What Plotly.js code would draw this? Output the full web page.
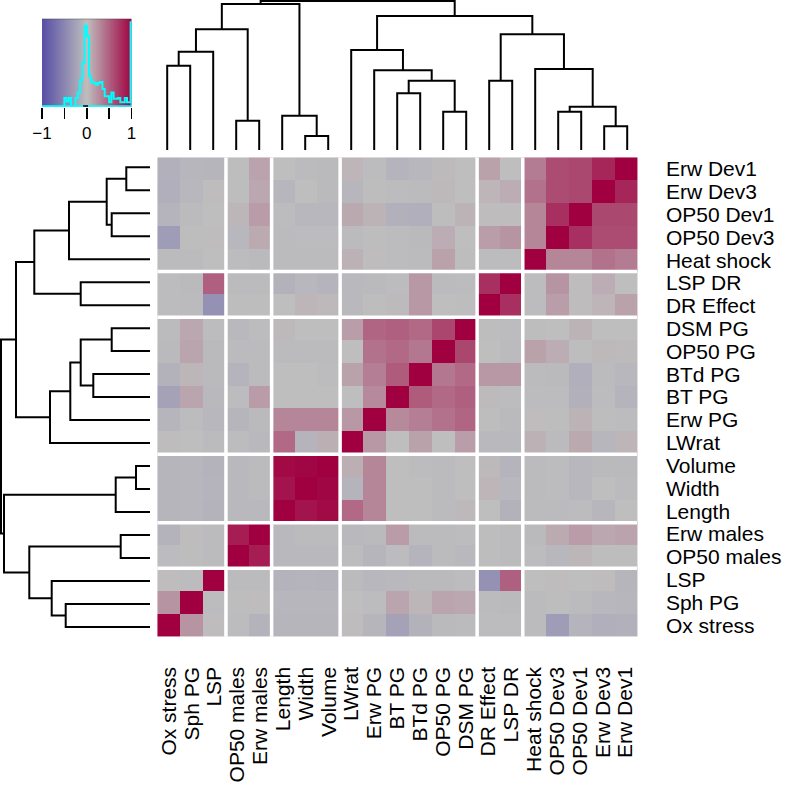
<!DOCTYPE html>
<html><head><meta charset="utf-8">
<script src="https://cdn.plot.ly/plotly-3.0.1.min.js"></script>
<style>html,body{margin:0;padding:0;background:#fff;} #chart{width:787px;height:787px;}</style>
</head><body><div id="chart"></div>
<script>
// Variable order (columns left->right; rows bottom->top)
const labels = ["Ox stress","Sph PG","LSP","OP50 males","Erw males","Length","Width","Volume","LWrat","Erw PG","BT PG","BTd PG","OP50 PG","DSM PG","DR Effect","LSP DR","Heat shock","OP50 Dev3","OP50 Dev1","Erw Dev3","Erw Dev1"];

// Correlation matrix (rows/cols in the order of `labels`)
const corr = [
 [1,0.22,0.01,-0.02,-0.1,-0.08,-0.08,-0.08,0.01,-0.08,-0.25,-0.11,-0.04,-0.03,-0.02,-0.02,-0.03,-0.3,-0.09,-0.13,-0.12],
 [0.22,1,-0.02,-0.01,0.01,-0.07,-0.07,-0.07,0,-0.02,0.13,0.04,0.13,0.12,-0.03,-0.04,-0.03,-0.01,-0.03,-0.06,-0.07],
 [0.01,-0.02,1,-0.03,-0.03,-0.1,-0.09,-0.1,-0.03,-0.06,-0.05,-0.04,-0.04,-0.02,-0.4,0.5,0,0.01,0,0.01,-0.08],
 [-0.02,-0.01,-0.03,1,0.85,-0.05,-0.05,-0.05,-0.02,-0.08,-0.02,-0.09,-0.03,-0.05,-0.01,-0.03,-0.02,-0.06,0.04,-0.01,-0.01],
 [-0.1,0.01,-0.03,0.85,1,-0.05,-0.03,-0.03,-0.05,-0.04,0.18,-0.03,-0.03,-0.02,-0.01,-0.03,-0.04,0.1,0.18,0.12,0.14],
 [-0.08,-0.07,-0.1,-0.05,-0.05,1,0.9,0.95,0.45,0.3,0,0,-0.03,0.03,0,-0.11,-0.03,-0.03,-0.02,-0.07,0],
 [-0.08,-0.07,-0.09,-0.05,-0.03,0.9,1,0.97,-0.09,0.3,0,0,-0.03,0,0.05,-0.06,-0.03,-0.02,-0.06,0,-0.03],
 [-0.08,-0.07,-0.1,-0.05,-0.03,0.95,0.97,1,0.08,0.3,0,-0.02,-0.03,0,0.03,-0.09,-0.03,-0.02,-0.06,-0.04,-0.04],
 [0.01,0,-0.03,-0.02,-0.05,0.45,-0.09,0.08,1,0.2,0,0.15,0,0.17,-0.05,-0.05,0.07,-0.03,0.11,-0.07,0.05],
 [-0.08,-0.02,-0.06,-0.08,-0.04,0.3,0.3,0.3,0.2,1,0.28,0.33,0.4,0.47,-0.01,-0.04,0.01,-0.01,0.06,-0.01,-0.02],
 [-0.25,0.13,-0.05,-0.02,0.18,0,0,0,0,0.28,1,0.52,0.45,0.5,0.02,-0.02,-0.02,-0.02,-0.12,-0.02,-0.09],
 [-0.11,0.04,-0.04,-0.09,-0.03,0,0,-0.02,0.15,0.33,0.52,1,0.37,0.45,0.2,0.2,-0.03,-0.04,-0.13,-0.03,-0.06],
 [-0.04,0.13,-0.04,-0.03,-0.03,-0.03,-0.03,-0.03,0,0.4,0.45,0.37,1,0.63,0,-0.03,0.15,0.09,-0.01,0.03,0.02],
 [-0.03,0.12,-0.02,-0.05,-0.02,0.03,0,0,0.17,0.47,0.5,0.45,0.63,1,-0.01,-0.02,-0.01,0,0.06,0,0],
 [-0.02,-0.03,-0.4,-0.01,-0.01,0,0.05,0.03,-0.05,-0.01,0.02,0.2,0,-0.01,1,0.75,-0.02,0.17,0.01,0.05,0.15],
 [-0.02,-0.04,0.5,-0.03,-0.03,-0.11,-0.06,-0.09,-0.05,-0.04,-0.02,0.2,-0.03,-0.02,0.75,1,-0.02,0.22,0.01,0.09,0],
 [-0.03,-0.03,0,-0.02,-0.04,-0.03,-0.03,-0.03,0.07,0.01,-0.02,-0.03,0.15,-0.01,-0.02,-0.02,1,0.3,0.3,0.4,0.35],
 [-0.3,-0.01,0.01,-0.06,0.1,-0.03,-0.02,-0.02,-0.03,-0.01,-0.02,-0.04,0.09,0,0.17,0.22,0.3,1,0.75,0.6,0.6],
 [-0.09,-0.03,0,0.04,0.18,-0.02,-0.06,-0.06,0.11,0.06,-0.12,-0.13,-0.01,0.06,0.01,0.01,0.3,0.75,1,0.62,0.62],
 [-0.13,-0.06,0.01,-0.01,0.12,-0.07,0,-0.04,-0.07,-0.01,-0.02,-0.03,0.03,0,0.05,0.09,0.4,0.6,0.62,1,0.8],
 [-0.12,-0.07,-0.08,-0.01,0.14,0,-0.03,-0.04,0.05,-0.02,-0.09,-0.06,0.02,0,0.15,0,0.35,0.6,0.62,0.8,1]
];

// Dendrogram (hclust-style merges: negative = leaf number (1-based), positive = earlier merge)
const mergeLeft   = [-7,-20,-4,-6,-13,-18, 6,-11, 8,-15,-10,-17, -1,13, -9,10,14,15,17,19];
const mergeRight  = [-8,-21,-5, 1,-14,-19, 2,-12, 5,-16,  9,  7, -2,-3, 11,12, 3,16, 4,18];
const mergeHeight = [14,23.7,29.3,34.3,38.3,38.3,43.3,56.7,69.3,69.3,79.7,81,84.3,98.3,100,115.7,120.7,134,146,149];

// Block separators (between category indices)
const separators = [2.5,4.5,7.5,13.5,15.5];

// Colour-key histogram (relative heights per bin)
const histEdges   = [-0.5,-0.45,-0.4,-0.35,-0.3,-0.25,-0.2,-0.15,-0.1,-0.05,0,0.05,0.1,0.15,0.2,0.25,0.3,0.35,0.4,0.45,0.5,0.55,0.6,0.65,0.7,0.75,0.8,0.85,0.9,0.95,0.98,1.0];
const histHeights = [0.1,0.06,0.1,0,0,0.1,0.16,0.3,0.5,0.92,0.8,0.35,0.28,0.27,0.25,0.27,0.28,0.2,0.12,0.12,0.05,0.16,0.09,0.09,0.1,0.05,0.05,0.1,0.05,0.05,0.96];

// Colour-key tick labels
const keyTickVals = [-1,-0.5,0,0.5,1];
const keyTickText = ['\u22121','','0','','1'];

const colorscale = [[0,'rgb(88,78,165)'],[0.5,'rgb(190,190,190)'],[1,'rgb(160,0,64)']];
const FONT = 'Liberation Sans, Arial, Helvetica, sans-serif';
const W = 787, H = 787;
const px = v => v / W;
const py = v => 1 - v / H;

// dendrogram geometry
const nodePos = [], nodeH = [];
function getNode(k){
  if (k < 0) return [(-k) - 1, 0];
  return [nodePos[k-1], nodeH[k-1]];
}
const segA = [], segB = [];
for (let m = 0; m < mergeHeight.length; m++) {
  const [pl, hl] = getNode(mergeLeft[m]);
  const [pr, hr] = getNode(mergeRight[m]);
  const h = mergeHeight[m];
  nodePos.push((pl + pr) / 2); nodeH.push(h);
  segA.push(pl, pl, pr, pr, null);
  segB.push(hl, h, h, hr, null);
}

// key gradient
const nKey = 200;
const keyZ = [[]];
for (let i = 0; i < nKey; i++) keyZ[0].push(-1 + (i + 0.5) * 2 / nKey);

// histogram step line
const hx = [-1], hy = [0];
for (let i = 0; i < histHeights.length; i++) { hx.push(histEdges[i]); hy.push(histHeights[i]); }
hx.push(1); hy.push(0);

const heatX = [155.7, 638.7], heatY = [155.7, 638.5];

const traces = [
  {type:'heatmap', x:labels, y:labels, z:corr, colorscale:colorscale, zmin:-1, zmax:1,
   showscale:false, hoverinfo:'skip', xaxis:'x', yaxis:'y'},
  {type:'scatter', mode:'lines', x:segA, y:segB, xaxis:'x2', yaxis:'y2',
   line:{color:'#000', width:2}, hoverinfo:'skip', showlegend:false},
  {type:'scatter', mode:'lines', x:segB, y:segA, xaxis:'x3', yaxis:'y3',
   line:{color:'#000', width:2}, hoverinfo:'skip', showlegend:false},
  {type:'heatmap', z:keyZ, x0:-1 + 1/nKey, dx:2/nKey, y0:0.5, dy:1, colorscale:colorscale, zmin:-1, zmax:1,
   showscale:false, hoverinfo:'skip', xaxis:'x4', yaxis:'y4'},
  {type:'scatter', mode:'lines', x:[-1,1], y:[0.005,0.005], xaxis:'x4', yaxis:'y4',
   line:{color:'#00FFFF', width:2}, hoverinfo:'skip', showlegend:false},
  {type:'scatter', mode:'lines', x:[-0.08,0.03], y:[0.005,0.005], xaxis:'x4', yaxis:'y4',
   line:{color:'#000', width:2}, hoverinfo:'skip', showlegend:false},
  {type:'scatter', mode:'lines', x:hx, y:hy, xaxis:'x4', yaxis:'y4',
   line:{color:'#00FFFF', width:2, shape:'hv'}, hoverinfo:'skip', showlegend:false}
];

const shapes = [];
separators.forEach(s => {
  shapes.push({type:'line', xref:'x', yref:'y', x0:s, x1:s, y0:-0.5, y1:20.5, line:{color:'#fff', width:3.5}});
  shapes.push({type:'line', xref:'x', yref:'y', y0:s, y1:s, x0:-0.5, x1:20.5, line:{color:'#fff', width:3.5}});
});
shapes.push({type:'line', xref:'x4', yref:'y4', x0:-1, x1:1, y0:1, y1:1, line:{color:'#333', width:1}});

const tickFont = {size:21, family:FONT, color:'#000'};
const layout = {
  width:W, height:H, autosize:false, margin:{l:0,r:0,t:0,b:0},
  paper_bgcolor:'#fff', plot_bgcolor:'rgba(0,0,0,0)', showlegend:false,
  font:{family:FONT, color:'#000'},
  xaxis:{domain:[px(heatX[0]), px(heatX[1])], anchor:'y', type:'category', categoryorder:'array', categoryarray:labels,
         tickmode:'array', tickvals:labels, ticktext:labels,
         tickangle:-90, ticks:'outside', ticklen:19, tickcolor:'rgba(0,0,0,0)', showgrid:false, zeroline:false,
         showline:false, automargin:false, tickfont:tickFont, fixedrange:true},
  yaxis:{domain:[py(heatY[1]), py(heatY[0])], anchor:'x', side:'right', type:'category', categoryorder:'array', categoryarray:labels,
         tickmode:'array', tickvals:labels, ticktext:labels,
         ticks:'outside', ticklen:22, tickcolor:'rgba(0,0,0,0)', showgrid:false, zeroline:false,
         showline:false, automargin:false, tickfont:tickFont, fixedrange:true},
  xaxis2:{domain:[px(heatX[0]), px(heatX[1])], anchor:'y2', range:[-0.5,20.5], visible:false, fixedrange:true},
  yaxis2:{domain:[py(150), 1], anchor:'x2', range:[0,150], visible:false, fixedrange:true},
  xaxis3:{domain:[0, px(150)], anchor:'y3', range:[150,0], visible:false, fixedrange:true},
  yaxis3:{domain:[py(heatY[1]), py(heatY[0])], anchor:'x3', range:[-0.5,20.5], visible:false, fixedrange:true},
  xaxis4:{domain:[px(42), px(131.5)], anchor:'y4', range:[-1,1], tickmode:'array', tickvals:keyTickVals, ticktext:keyTickText,
          ticks:'outside', ticklen:11, tickwidth:1.5, tickcolor:'#000', showgrid:false, zeroline:false, showline:false,
          automargin:false, tickfont:{size:17, family:FONT, color:'#000'}, fixedrange:true},
  yaxis4:{domain:[py(106.7), py(18.7)], anchor:'x4', range:[0,1], visible:false, fixedrange:true},
  shapes:shapes
};

Plotly.newPlot('chart', traces, layout, {staticPlot:true, displayModeBar:false});
</script>
</body></html>
